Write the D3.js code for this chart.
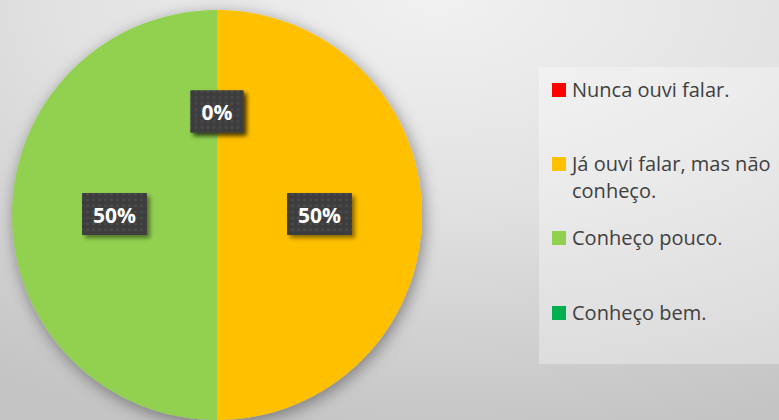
<!DOCTYPE html>
<html><head><meta charset="utf-8">
<script src="https://cdn.jsdelivr.net/npm/d3@7/dist/d3.min.js"></script>
<style>html,body{margin:0;padding:0;overflow:hidden;}svg{display:block;}</style>
</head><body>
<script>
const categories = ["Nunca ouvi falar.", "Já ouvi falar, mas não conheço.", "Conheço pouco.", "Conheço bem."];
const legendLines = [["Nunca ouvi falar."], ["Já ouvi falar, mas não", "conheço."], ["Conheço pouco."], ["Conheço bem."]];
const values = [0, 50, 50, 0];
const colors = ["#FF0000", "#FFC000", "#92D050", "#00B050"];

const W = 779, H = 420;
const svg = d3.select("body").append("svg").attr("width", W).attr("height", H);
const defs = svg.append("defs");

const bg = defs.append("radialGradient").attr("id", "bg")
  .attr("cx", "0.56").attr("cy", "0.0").attr("r", "1.05");
bg.append("stop").attr("offset", "0%").attr("stop-color", "#f1f1f1");
bg.append("stop").attr("offset", "45%").attr("stop-color", "#e2e2e2");
bg.append("stop").attr("offset", "100%").attr("stop-color", "#c4c4c4");

const sh = defs.append("filter").attr("id", "pieShadow").attr("x", "-20%").attr("y", "-20%").attr("width", "140%").attr("height", "140%");
sh.append("feDropShadow").attr("dx", 2).attr("dy", 4).attr("stdDeviation", 8).attr("flood-color", "#000").attr("flood-opacity", 0.4);

const bsh = defs.append("filter").attr("id", "boxShadow").attr("x", "-30%").attr("y", "-30%").attr("width", "160%").attr("height", "160%");
bsh.append("feDropShadow").attr("dx", 3).attr("dy", 3).attr("stdDeviation", 2).attr("flood-color", "#000").attr("flood-opacity", 0.45);

const pat = defs.append("pattern").attr("id", "dots").attr("patternUnits", "userSpaceOnUse").attr("width", 6).attr("height", 6);
pat.append("rect").attr("width", 6).attr("height", 6).attr("fill", "#3d3d3d");
pat.append("circle").attr("cx", 3).attr("cy", 3).attr("r", 1.4).attr("fill", "#4b4b4b");

svg.append("rect").attr("width", W).attr("height", H).attr("fill", "url(#bg)");

const cx = 217, cy = 215, R = 205;
const pie = d3.pie().sort(null).value(d => d)(values);
const arc = d3.arc().innerRadius(0).outerRadius(R);
const labelArc = d3.arc().innerRadius(R * 0.5).outerRadius(R * 0.5);

const g = svg.append("g").attr("transform", `translate(${cx},${cy})`);
g.append("g").attr("filter", "url(#pieShadow)")
  .selectAll("path").data(pie).enter().append("path")
  .attr("d", arc).attr("fill", (d, i) => colors[i]);

const fmt = d3.format(".0%");
const total = d3.sum(values);
const labels = g.selectAll("g.lab").data(pie).enter().append("g").attr("class", "lab")
  .attr("transform", d => { const c = labelArc.centroid(d); return `translate(${c[0]},${c[1]})`; });
labels.each(function(d) {
  const s = d3.select(this);
  const txt = fmt(d.value / total);
  const t = s.append("text").text(txt)
    .attr("text-anchor", "middle").attr("dy", "0.36em")
    .attr("font-family", "'Open Sans', sans-serif").attr("font-weight", "bold")
    .attr("font-size", 21).attr("fill", "#ffffff");
  const bw = t.node().getComputedTextLength() + 22, bh = 42;
  s.insert("rect", "text").attr("x", -bw / 2).attr("y", -bh / 2 - 1).attr("width", bw).attr("height", bh)
    .attr("fill", "url(#dots)").attr("filter", "url(#boxShadow)");
});

// legend
svg.append("rect").attr("x", 539).attr("y", 67).attr("width", 260).attr("height", 297)
  .attr("fill", "#ffffff").attr("fill-opacity", 0.32);
const legY = [97, 171, 245, 320];
const leg = svg.selectAll("g.leg").data(categories).enter().append("g").attr("class", "leg");
leg.append("rect").attr("x", 552).attr("y", (d, i) => legY[i] - 14).attr("width", 14).attr("height", 14)
  .attr("fill", (d, i) => colors[i]);
leg.each(function(d, i) {
  const t = d3.select(this).append("text").attr("x", 572).attr("y", legY[i])
    .attr("font-family", "'Open Sans', sans-serif").attr("font-size", 20).attr("fill", "#404040");
  legendLines[i].forEach((ln, j) => {
    t.append("tspan").attr("x", 572).attr("y", legY[i] + j * 27).text(ln);
  });
});
</script>
</body></html>
